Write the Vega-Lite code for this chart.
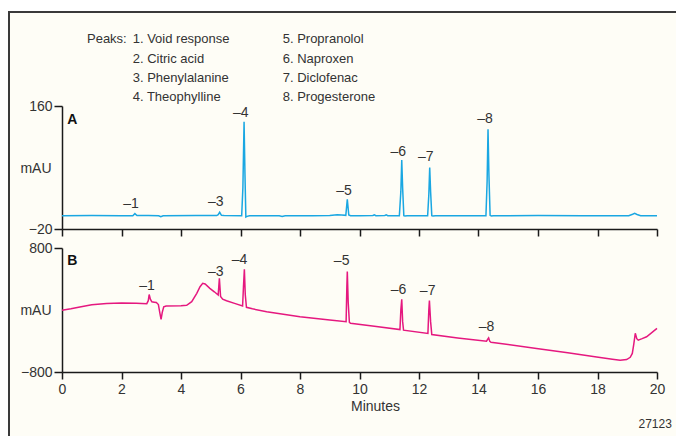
{
  "$schema": "https://vega.github.io/schema/vega-lite/v6.json",
  "width": 667,
  "height": 424,
  "autosize": {"type": "none"},
  "padding": {"left": 9, "top": 12, "right": 0, "bottom": 0},
  "background": "#ffffff",
  "config": {
    "view": {"fill": "#fefdf6", "stroke": "#3a3a3a", "strokeWidth": 2, "strokeDash": [667, 1091, 426, 0]},
    "font": "Liberation Sans",
    "axis": {
      "grid": false,
      "domainColor": "#1a1a1a",
      "domainWidth": 1.5,
      "tickColor": "#1a1a1a",
      "tickWidth": 1.5,
      "labelFont": "Liberation Sans",
      "labelFontSize": 14,
      "labelColor": "#333333",
      "titleFont": "Liberation Sans",
      "titleFontSize": 14,
      "titleFontWeight": "normal",
      "titleColor": "#333333"
    },
    "text": {"font": "Liberation Sans", "color": "#333333"}
  },
  "datasets": {
    "traceA": [
      {"t": 0, "v": -0.5}, {"t": 1.0, "v": -0.3}, {"t": 2.0, "v": -0.5}, {"t": 2.38, "v": -0.5}, {"t": 2.45, "v": 2.5}, {"t": 2.52, "v": -0.3},
      {"t": 2.9, "v": -0.4}, {"t": 3.25, "v": -0.6}, {"t": 3.32, "v": -2}, {"t": 3.4, "v": -0.6}, {"t": 4.5, "v": -0.4}, {"t": 5.2, "v": -0.3},
      {"t": 5.25, "v": 1}, {"t": 5.3, "v": 4.5}, {"t": 5.36, "v": 0}, {"t": 5.45, "v": -0.4}, {"t": 6.04, "v": -0.5}, {"t": 6.08, "v": 40},
      {"t": 6.12, "v": 137}, {"t": 6.15, "v": 60}, {"t": 6.18, "v": -2.5}, {"t": 6.22, "v": -1.5}, {"t": 6.3, "v": -0.5}, {"t": 7.3, "v": -0.5},
      {"t": 7.4, "v": -1.5}, {"t": 7.5, "v": -0.5}, {"t": 8.4, "v": -0.6}, {"t": 9.0, "v": -0.3}, {"t": 9.25, "v": 0.8}, {"t": 9.4, "v": 0.5},
      {"t": 9.54, "v": 0}, {"t": 9.59, "v": 23.5}, {"t": 9.64, "v": 0.5}, {"t": 9.7, "v": -0.6}, {"t": 10.0, "v": -0.5}, {"t": 10.45, "v": -0.3},
      {"t": 10.5, "v": 0.8}, {"t": 10.55, "v": -0.5}, {"t": 10.85, "v": -0.3}, {"t": 10.9, "v": 0.6}, {"t": 10.95, "v": -0.5}, {"t": 11.34, "v": -0.5},
      {"t": 11.39, "v": 35}, {"t": 11.42, "v": 81}, {"t": 11.45, "v": 40}, {"t": 11.49, "v": -0.5}, {"t": 11.53, "v": -1}, {"t": 11.6, "v": -0.5},
      {"t": 12.2, "v": -0.6}, {"t": 12.29, "v": -0.5}, {"t": 12.33, "v": 30}, {"t": 12.36, "v": 70}, {"t": 12.39, "v": 35}, {"t": 12.43, "v": -0.5},
      {"t": 12.47, "v": -1}, {"t": 12.55, "v": -0.5}, {"t": 14.25, "v": -0.5}, {"t": 14.29, "v": 50}, {"t": 14.32, "v": 126}, {"t": 14.35, "v": 60},
      {"t": 14.39, "v": 0}, {"t": 14.43, "v": -1}, {"t": 14.5, "v": -0.5}, {"t": 16.0, "v": -0.4}, {"t": 17.5, "v": -0.6}, {"t": 19.05, "v": -0.5},
      {"t": 19.18, "v": 1.5}, {"t": 19.25, "v": 2.8}, {"t": 19.33, "v": 1.2}, {"t": 19.45, "v": -0.5}, {"t": 20, "v": -0.6}
    ],
    "traceB": [
      {"t": 0, "v": -4}, {"t": 0.3, "v": 15}, {"t": 0.6, "v": 40}, {"t": 1.0, "v": 68}, {"t": 1.5, "v": 85}, {"t": 2.0, "v": 90},
      {"t": 2.5, "v": 88}, {"t": 2.85, "v": 82}, {"t": 2.9, "v": 120}, {"t": 2.93, "v": 200}, {"t": 2.97, "v": 140}, {"t": 3.02, "v": 105},
      {"t": 3.1, "v": 100}, {"t": 3.17, "v": 96}, {"t": 3.24, "v": 70}, {"t": 3.29, "v": -40}, {"t": 3.33, "v": -120}, {"t": 3.37, "v": -30},
      {"t": 3.42, "v": 40}, {"t": 3.5, "v": 52}, {"t": 4.0, "v": 56}, {"t": 4.19, "v": 60}, {"t": 4.36, "v": 107}, {"t": 4.53, "v": 215},
      {"t": 4.64, "v": 300}, {"t": 4.73, "v": 344}, {"t": 4.81, "v": 335}, {"t": 4.97, "v": 280}, {"t": 5.12, "v": 235}, {"t": 5.25, "v": 194},
      {"t": 5.29, "v": 409}, {"t": 5.33, "v": 175}, {"t": 5.4, "v": 140}, {"t": 5.53, "v": 120}, {"t": 5.8, "v": 85}, {"t": 6.07, "v": 52},
      {"t": 6.1, "v": 300}, {"t": 6.13, "v": 525}, {"t": 6.16, "v": 200}, {"t": 6.2, "v": 35}, {"t": 6.4, "v": 15}, {"t": 6.88, "v": -22},
      {"t": 8.0, "v": -86}, {"t": 9.0, "v": -130}, {"t": 9.55, "v": -151}, {"t": 9.575, "v": 300}, {"t": 9.59, "v": 497}, {"t": 9.62, "v": 100},
      {"t": 9.66, "v": -160}, {"t": 9.7, "v": -172}, {"t": 10.5, "v": -210}, {"t": 11.36, "v": -253}, {"t": 11.39, "v": 0}, {"t": 11.42, "v": 138},
      {"t": 11.45, "v": -150}, {"t": 11.48, "v": -260}, {"t": 12.3, "v": -303}, {"t": 12.33, "v": 0}, {"t": 12.35, "v": 121}, {"t": 12.39, "v": -150},
      {"t": 12.43, "v": -316}, {"t": 13.3, "v": -360}, {"t": 14.27, "v": -402}, {"t": 14.31, "v": -375}, {"t": 14.34, "v": -360}, {"t": 14.38, "v": -405},
      {"t": 14.42, "v": -416}, {"t": 15.95, "v": -497}, {"t": 17.0, "v": -552}, {"t": 17.97, "v": -606}, {"t": 18.5, "v": -635}, {"t": 18.76, "v": -648},
      {"t": 18.98, "v": -640}, {"t": 19.1, "v": -610}, {"t": 19.17, "v": -560}, {"t": 19.22, "v": -440}, {"t": 19.27, "v": -300}, {"t": 19.32, "v": -370},
      {"t": 19.37, "v": -390}, {"t": 19.5, "v": -370}, {"t": 19.65, "v": -345}, {"t": 20, "v": -238}
    ],
    "labelsA": [
      {"t": 2.32, "v": 16.6, "label": "–1"}, {"t": 5.17, "v": 19.5, "label": "–3"}, {"t": 6.01, "v": 149.3, "label": "–4"},
      {"t": 9.48, "v": 36.3, "label": "–5"}, {"t": 11.3, "v": 93.1, "label": "–6"}, {"t": 12.23, "v": 85.8, "label": "–7"},
      {"t": 14.22, "v": 141, "label": "–8"}
    ],
    "labelsB": [
      {"t": 2.86, "v": 310, "label": "–1"}, {"t": 5.17, "v": 494, "label": "–3"}, {"t": 5.97, "v": 645, "label": "–4"},
      {"t": 9.4, "v": 632, "label": "–5"}, {"t": 11.31, "v": 252, "label": "–6"}, {"t": 12.29, "v": 241, "label": "–7"},
      {"t": 14.27, "v": -219, "label": "–8"}
    ],
    "panelA": [{"t": 0.35, "v": 138.8, "label": "A"}],
    "panelB": [{"t": 0.35, "v": 626, "label": "B"}],
    "legend": [
      {"t": 0.84, "v": 252, "label": "Peaks:"},
      {"t": 2.376, "v": 252, "label": "1. Void response"},
      {"t": 2.376, "v": 223.5, "label": "2. Citric acid"},
      {"t": 2.376, "v": 195, "label": "3. Phenylalanine"},
      {"t": 2.376, "v": 167, "label": "4. Theophylline"},
      {"t": 7.418, "v": 252, "label": "5. Propranolol"},
      {"t": 7.418, "v": 223.5, "label": "6. Naproxen"},
      {"t": 7.418, "v": 195, "label": "7. Diclofenac"},
      {"t": 7.418, "v": 167, "label": "8. Progesterone"}
    ],
    "code": [{"t": 20.5, "v": -1471, "label": "27123"}]
  },
  "layer": [
    {
      "encoding": {
        "x": {
          "field": "t", "type": "quantitative",
          "scale": {"domain": [0, 20], "range": [53, 648], "nice": false, "zero": false},
          "axis": {"orient": "bottom", "offset": -207, "values": [0, 2, 4, 6, 8, 10, 12, 14, 16, 18, 20], "labels": false, "tickSize": 7, "title": null}
        },
        "y": {
          "field": "v", "type": "quantitative",
          "scale": {"domain": [-20, 160], "range": [217, 94], "nice": false, "zero": false},
          "axis": {"orient": "left", "offset": -53, "values": [-20, 160], "tickSize": 8, "labelPadding": 2, "title": "mAU", "titleAngle": 0, "titleAlign": "right", "titleBaseline": "middle", "titleX": -11, "titleY": 156}
        }
      },
      "layer": [
        {"data": {"name": "traceA"}, "mark": {"type": "line", "color": "#1aa7e2", "strokeWidth": 1.5}},
        {"data": {"name": "labelsA"}, "mark": {"type": "text", "fontSize": 14, "align": "center", "baseline": "middle"}, "encoding": {"text": {"field": "label"}}},
        {"data": {"name": "panelA"}, "mark": {"type": "text", "fontSize": 14, "fontWeight": "bold", "align": "center", "baseline": "middle", "color": "#111111"}, "encoding": {"text": {"field": "label"}}},
        {"data": {"name": "legend"}, "mark": {"type": "text", "fontSize": 13, "align": "left", "baseline": "alphabetic"}, "encoding": {"text": {"field": "label"}}}
      ]
    },
    {
      "encoding": {
        "x": {
          "field": "t", "type": "quantitative",
          "scale": {"domain": [0, 20], "range": [53, 648], "nice": false, "zero": false},
          "axis": {"orient": "bottom", "offset": -64, "values": [0, 2, 4, 6, 8, 10, 12, 14, 16, 18, 20], "labelFlush": false, "tickSize": 7, "labelPadding": 3, "title": "Minutes", "titleX": 366, "titleY": 27, "titleBaseline": "top", "titleAlign": "center"}
        },
        "y": {
          "field": "v", "type": "quantitative",
          "scale": {"domain": [-800, 800], "range": [360, 236], "nice": false, "zero": false},
          "axis": {"orient": "left", "offset": -53, "values": [-800, 800], "tickSize": 8, "labelPadding": 2, "title": "mAU", "titleAngle": 0, "titleAlign": "right", "titleBaseline": "middle", "titleX": -11, "titleY": 298}
        }
      },
      "layer": [
        {"data": {"name": "traceB"}, "mark": {"type": "line", "color": "#e5187f", "strokeWidth": 1.5}},
        {"data": {"name": "labelsB"}, "mark": {"type": "text", "fontSize": 14, "align": "center", "baseline": "middle"}, "encoding": {"text": {"field": "label"}}},
        {"data": {"name": "panelB"}, "mark": {"type": "text", "fontSize": 14, "fontWeight": "bold", "align": "center", "baseline": "middle", "color": "#111111"}, "encoding": {"text": {"field": "label"}}},
        {"data": {"name": "code"}, "mark": {"type": "text", "fontSize": 12, "align": "right", "baseline": "middle"}, "encoding": {"text": {"field": "label"}}}
      ]
    }
  ],
  "resolve": {
    "scale": {"x": "independent", "y": "independent"},
    "axis": {"x": "independent", "y": "independent"}
  }
}
